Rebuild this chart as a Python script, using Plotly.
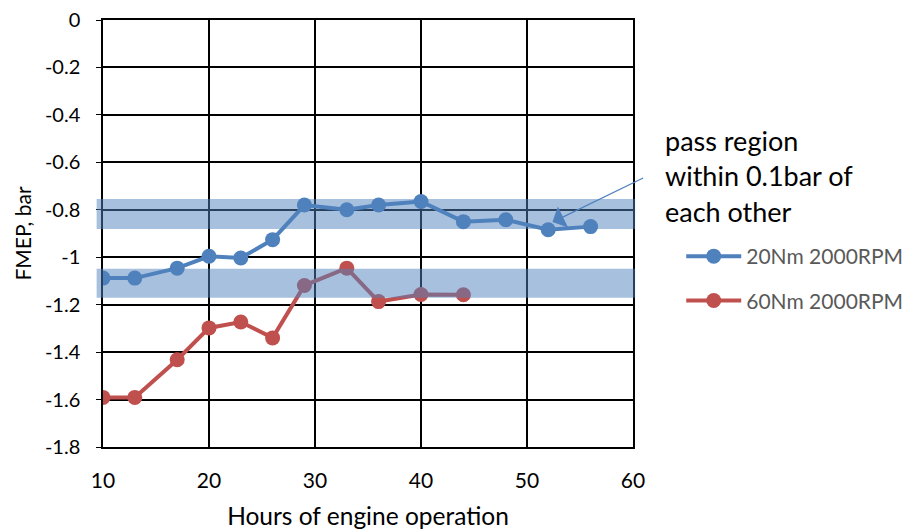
import plotly.graph_objects as go

hours_20 = [10, 13, 17, 20, 23, 26, 29, 33, 36, 40, 44, 48, 52, 56]
fmep_20 = [-1.088, -1.088, -1.046, -0.996, -1.003, -0.926, -0.780, -0.800, -0.780, -0.765, -0.850, -0.842, -0.884, -0.871]
hours_60 = [10, 13, 17, 20, 23, 26, 29, 33, 36, 40, 44]
fmep_60 = [-1.591, -1.591, -1.432, -1.298, -1.273, -1.340, -1.119, -1.046, -1.187, -1.157, -1.158]
bands = [(-0.755, -0.881), (-1.049, -1.171)]
x_ticks = [10, 20, 30, 40, 50, 60]
y_ticks = [0, -0.2, -0.4, -0.6, -0.8, -1, -1.2, -1.4, -1.6, -1.8]
note_lines = ["pass region", "within 0.1bar of", "each other"]

BLUE = "#4F81BD"
RED = "#C0504D"
FONT = "Lato, Open Sans, sans-serif"

fig = go.Figure()
fig.add_trace(go.Scatter(x=hours_20, y=fmep_20, mode="lines+markers", name="20Nm 2000RPM",
                         legendgroup="a", line=dict(color=BLUE, width=4),
                         marker=dict(color=BLUE, size=15)))
fig.add_trace(go.Scatter(x=hours_60, y=fmep_60, mode="lines+markers", name="60Nm 2000RPM",
                         legendgroup="b", line=dict(color=RED, width=4),
                         marker=dict(color=RED, size=15)))

for y0, y1 in bands:
    fig.add_shape(type="rect", xref="paper", yref="y", x0=-0.012, x1=1.004, y0=y0, y1=y1,
                  fillcolor="rgba(79,129,189,0.5)", line=dict(width=0), layer="above")

# arrow
fig.add_annotation(x=52.4, y=-0.852, ax=61.1, ay=-0.663, axref="x", ayref="y", xref="x", yref="y",
                   text="", showarrow=True, arrowhead=1, arrowsize=3, arrowwidth=1.3, arrowcolor=BLUE)
for i, t in enumerate(note_lines):
    fig.add_annotation(xref="paper", yref="paper", x=1.057, y=(447 - 140 - 35.5 * i) / 427,
                       text=t, showarrow=False, xanchor="left", yanchor="middle",
                       font=dict(family=FONT, size=27, color="black"))

fig.update_layout(
    width=906, height=530,
    margin=dict(l=103, r=273, t=20, b=83, autoexpand=False),
    paper_bgcolor="white", plot_bgcolor="white",
    font=dict(family=FONT, size=20, color="black"),
    legend=dict(x=1.091, y=(447 - 236) / 427, xanchor="left", yanchor="top",
                font=dict(family=FONT, size=21, color="#595959"),
                itemwidth=55, tracegroupgap=14, bgcolor="rgba(0,0,0,0)"),
    xaxis=dict(range=[10, 60], tickvals=x_ticks, showgrid=True, gridcolor="black", gridwidth=1.5,
               showline=True, linecolor="black", linewidth=1.5, mirror=True, zeroline=False,
               ticks="outside", ticklen=14, tickcolor="rgba(0,0,0,0)", tickfont=dict(size=21),
               title=dict(text="Hours of engine operation", font=dict(size=24.5), standoff=18)),
    yaxis=dict(range=[-1.8, 0], tickvals=y_ticks, ticktext=[str(v) if v != -1 else "-1" for v in y_ticks],
               showgrid=True, gridcolor="black", gridwidth=1.5,
               showline=True, linecolor="black", linewidth=1.5, mirror=True, zeroline=False,
               ticks="outside", ticklen=5, tickcolor="black", tickfont=dict(size=20),
               ticklabelstandoff=12, ticklabeloverflow="allow",
               title=dict(text="FMEP, bar", font=dict(size=21), standoff=8)),
)

fig.write_html("out.html", config={"displayModeBar": False},
               post_script="document.body.style.margin='0';document.body.style.overflow='hidden';")
